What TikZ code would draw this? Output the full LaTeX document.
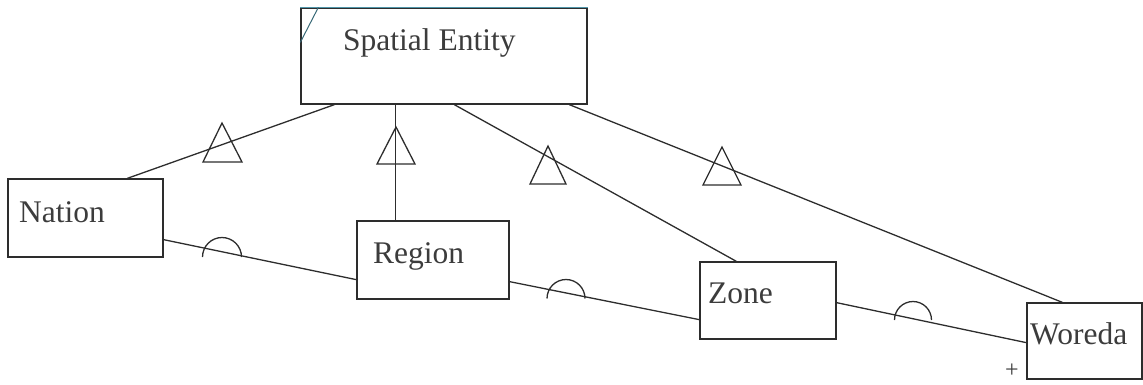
\documentclass[tikz,border=0pt]{standalone}
\usepackage{fontspec}
\setmainfont{Liberation Serif}
\usetikzlibrary{calc}
\definecolor{ink}{RGB}{45,45,45}
\definecolor{txt}{RGB}{60,60,60}
\definecolor{rim}{RGB}{80,150,170}
\tikzset{
  cls/.style={draw=ink, line width=1.3pt, rectangle, inner sep=0pt, fill=white},
  lbl/.style={anchor=base west, inner sep=0pt, text=txt, font=\fontsize{31.5}{36}\selectfont},
  link/.style={draw=ink, line width=1.3pt},
  gen/.style={draw=ink, line width=1.3pt, line join=miter},
  agg/.style={draw=ink, line width=1.3pt}
}
\begin{document}
\begin{tikzpicture}[x=1pt, y=-1pt]
\useasboundingbox (0,0) rectangle (1143,384);

% class boxes
\node[cls, minimum width=286pt, minimum height=96pt] (spatial) at (444,56) {};
\node[cls, minimum width=155pt, minimum height=78pt] (nation) at (85.5,218) {};
\node[cls, minimum width=152pt, minimum height=78pt] (region) at (433,260) {};
\node[cls, minimum width=136pt, minimum height=77pt] (zone) at (768,300.5) {};
\node[cls, minimum width=115pt, minimum height=76pt] (woreda) at (1084.5,341) {};

% coloured top rim and corner mark of the superclass
\draw[rim, line width=1.5pt] (spatial.north west) -- (spatial.north east);
\coordinate (cm1) at ($(spatial.north west)+(18,0)$);
\coordinate (cm2) at ($(spatial.north west)+(0,35)$);
\draw[rim!70!black, line width=1pt] (cm1) -- (cm2);

% labels
\node[lbl] (tspatial) at (343,50) {Spatial Entity};
\node[lbl] (tnation) at (19,222) {Nation};
\node[lbl] (tregion) at (373,263) {Region};
\node[lbl] (tzone) at (708,303) {Zone};
\node[lbl] (tworeda) at (1030,344) {Woreda};
\node[anchor=base, text=txt, inner sep=0pt, font=\fontsize{24}{26}\selectfont] (plus) at (1012,377.5) {+};

% generalisation links to the superclass
\draw[link] ($(nation.north west)+(120,0)$) -- ($(spatial.south west)+(34,0)$);
\draw[link] ($(region.north west)+(39,0)$) -- ($(spatial.south west)+(95,0)$);
\draw[link] ($(zone.north west)+(37,0)$) -- ($(spatial.south west)+(154,0)$);
\draw[link] ($(woreda.north west)+(36,0)$) -- ($(spatial.south west)+(269,0)$);

% generalisation triangles
\draw[gen] (222,123) -- (203,162) -- (242,162) -- cycle;
\draw[gen] (396,127) -- (377,164) -- (415,164) -- cycle;
\draw[gen] (548,146) -- (530,184) -- (566,184) -- cycle;
\draw[gen] (722,147) -- (703,185) -- (741,185) -- cycle;

% part-of links between the levels
\draw[link] ($(nation.south east)+(0,-18)$) -- ($(region.south west)+(0,-20)$);
\draw[link] ($(region.south east)+(0,-18)$) -- ($(zone.south west)+(0,-20)$);
\draw[link] ($(zone.south east)+(0,-37)$) -- ($(woreda.south west)+(0,-37)$);

% half-circle marks on the part-of links
\draw[agg] (202.5,257) arc[start angle=180, end angle=0, radius=19.5pt];
\draw[agg] (547,298.5) arc[start angle=180, end angle=0, radius=19pt];
\draw[agg] (894.5,320) arc[start angle=180, end angle=0, radius=18.5pt];
\end{tikzpicture}
\end{document}
